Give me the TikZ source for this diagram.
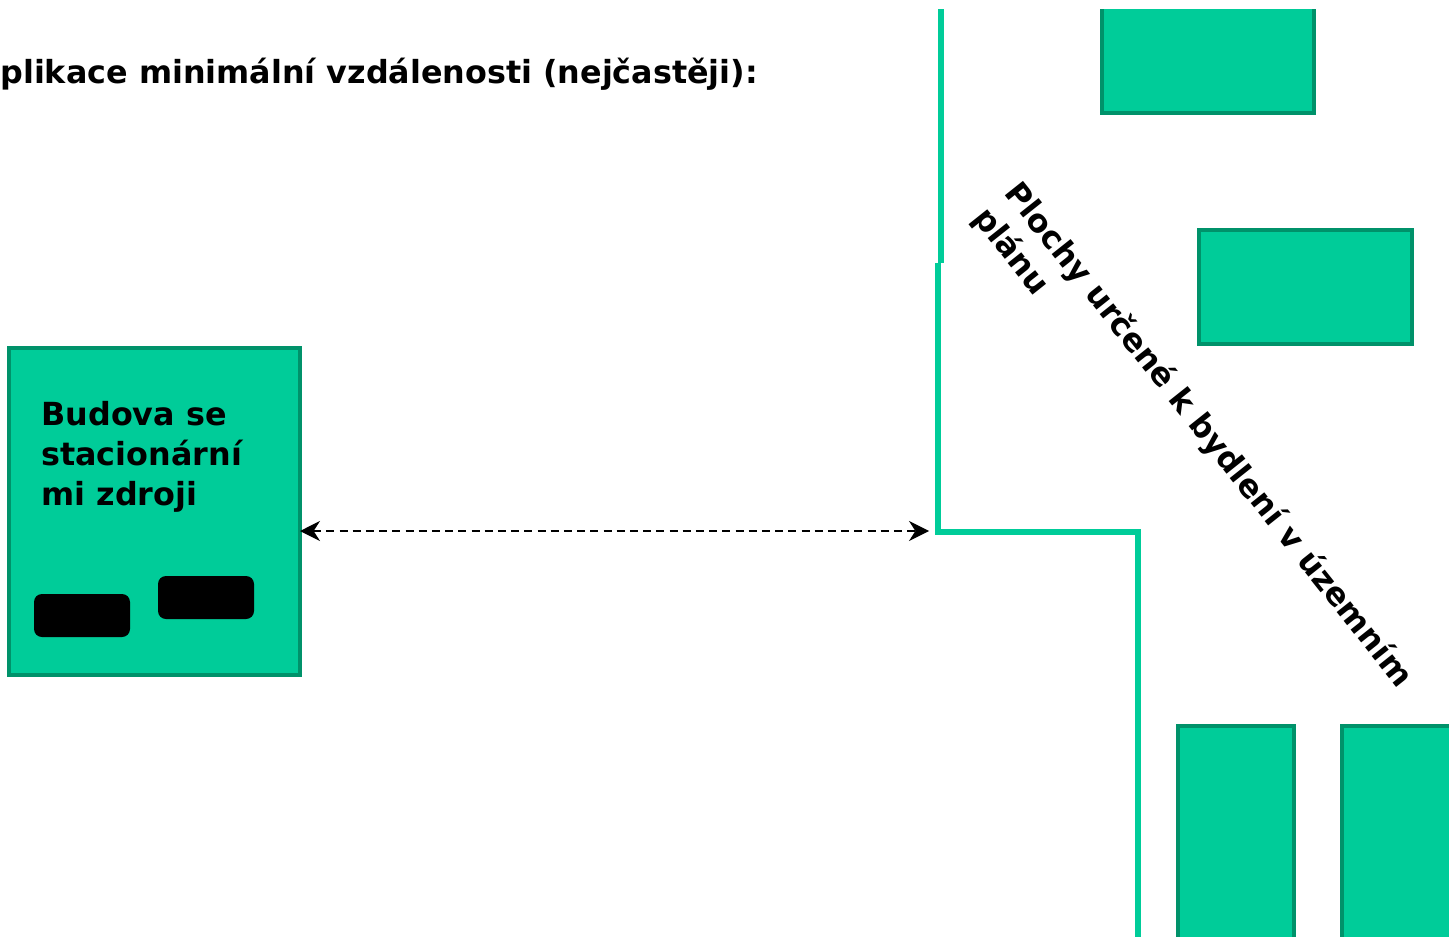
\documentclass[tikz,border=0pt]{standalone}
\usepackage{fontspec}
\setmainfont{DejaVu Sans}
\usetikzlibrary{arrows.meta}
\definecolor{plotfill}{RGB}{0,204,153}
\definecolor{plotedge}{RGB}{0,146,106}
\begin{document}
\begin{tikzpicture}[x=0.5pt,y=-0.5pt,
  house/.style={draw=plotedge,fill=plotfill,line width=2pt},
  source/.style={fill=black,rounded corners=4pt},
  border/.style={draw=plotfill,line width=3pt},
  label/.style={font=\bfseries\fontsize{15.9}{20}\selectfont,inner sep=0pt},
  gap/.style={dash pattern=on 4pt off 2.6pt,line width=0.7pt,
    {Stealth[length=10pt,width=10pt,inset=3.2pt]}-{Stealth[length=10pt,width=10pt,inset=3.2pt]}}]
\useasboundingbox (0,0) rectangle (1449,936);
\fill[white] (0,0) rectangle (1449,936);
\begin{scope}
\clip (0,10) rectangle (1449,936);

% heading
\node[label,anchor=base west] (title) at (0,84) {plikace minimální vzdálenosti (nejčastěji):};

% building with stationary sources
\draw[house] (9,348) rectangle (300,675);
\coordinate (budeast) at (300,531);
\node[label,anchor=base west,align=left] (budtext) at (41,505)
  {Budova se\\stacionární\\mi zdroji};
\fill[source] (34,594) rectangle (130,637);
\fill[source] (158,576) rectangle (254,619);

% boundary of the residential zone
\coordinate (b1) at (940.5,0);
\coordinate (b2) at (940.5,263);
\coordinate (b3) at (937.5,263);
\coordinate (corner) at (937.5,532);
\coordinate (b5) at (1137.5,532);
\coordinate (b6) at (1137.5,950);
\draw[border] (b1) -- (b2);
\draw[border] (b3) -- (corner) -- (b5) -- (b6);

% distance arrow
\coordinate (tipend) at (929,531);
\draw[gap] (budeast) -- (tipend);

% residential buildings
\draw[house] (1102,-5) rectangle (1314,113);
\draw[house] (1199,230) rectangle (1412,344);
\draw[house] (1178,726) rectangle (1294,960);
\draw[house] (1342,726) rectangle (1470,960);

% zone label
\node[label,anchor=base west,align=left,rotate=-51.5] (zone) at (972,218)
  {Plochy určené k bydlení v územním\\plánu};
\end{scope}
\end{tikzpicture}
\end{document}
